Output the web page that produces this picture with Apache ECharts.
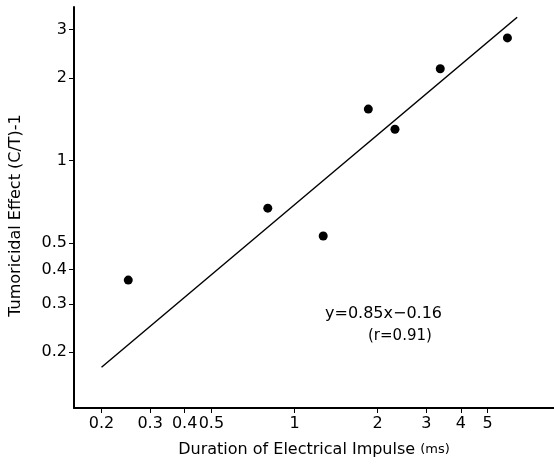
<!DOCTYPE html>
<html><head><meta charset="utf-8">
<script src="https://cdn.jsdelivr.net/npm/echarts@6/dist/echarts.min.js"></script>
<style>html,body{margin:0;padding:0;background:#fff}#c{width:554px;height:465px}</style>
</head><body><div id="c"></div>
<script>
const durationMs = [0.25, 0.80, 1.27, 1.85, 2.31, 3.37, 5.9];
const tumoricidal = [0.366, 0.67, 0.53, 1.54, 1.30, 2.16, 2.80];
// Regression line endpoints as drawn
const fitX = [0.2, 6.4];
const fitY = [0.176, 3.33];
// Tick labels
const xTicks = [0.2, 0.3, 0.4, 0.5, 1, 2, 3, 4, 5];
const yTicks = [0.2, 0.3, 0.4, 0.5, 1, 2, 3];
// Axis ranges
const xRange = [0.159, 8.7];
const yRange = [0.125, 3.63];

const L = Math.log10;
const fmt = v => String(parseFloat(Math.pow(10, v).toPrecision(3)));
const font = 'DejaVu Sans';

const chart = echarts.init(document.getElementById('c'));
chart.setOption({
  animation: false,
  backgroundColor: '#fff',
  grid: {left: 74, right: 0, top: 7, bottom: 57},
  xAxis: {
    type: 'value', min: L(xRange[0]), max: L(xRange[1]),
    splitLine: {show: false},
    axisLine: {onZero: false, lineStyle: {color: '#000', width: 2}},
    axisTick: {customValues: xTicks.map(L), length: 5, lineStyle: {color: '#000', width: 1}},
    axisLabel: {customValues: xTicks.map(L), formatter: fmt, color: '#000', fontFamily: font, fontSize: 16, margin: 8},
    name: 'Duration of Electrical Impulse {s|(ms)}',
    nameLocation: 'middle', nameGap: 34,
    nameTextStyle: {color: '#000', fontFamily: font, fontSize: 16, rich: {s: {fontSize: 13, fontFamily: font, color: '#000'}}}
  },
  yAxis: {
    type: 'value', min: L(yRange[0]), max: L(yRange[1]),
    splitLine: {show: false},
    axisLine: {onZero: false, lineStyle: {color: '#000', width: 2}},
    axisTick: {customValues: yTicks.map(L), length: 5, lineStyle: {color: '#000', width: 1}},
    axisLabel: {customValues: yTicks.map(L), formatter: fmt, color: '#000', fontFamily: font, fontSize: 16, margin: 7},
    name: 'Tumoricidal Effect (C/T)-1',
    nameLocation: 'middle', nameGap: 50, nameRotate: 90,
    nameTextStyle: {color: '#000', fontFamily: font, fontSize: 16, padding: [0, 16, 0, 0]}
  },
  series: [
    {
      type: 'line', data: fitX.map((x, i) => [L(x), L(fitY[i])]),
      showSymbol: false, symbol: 'none',
      lineStyle: {color: '#000', width: 1.5}, z: 2
    },
    {
      type: 'scatter', data: durationMs.map((x, i) => [L(x), L(tumoricidal[i])]),
      symbol: 'circle', symbolSize: 9,
      itemStyle: {color: '#000', opacity: 1}, z: 3
    }
  ],
  graphic: [
    {type: 'text', left: 325, top: 306, style: {text: 'y=0.85x\u22120.16', fill: '#000', font: '16px "DejaVu Sans"'}},
    {type: 'text', left: 368, top: 329, style: {text: '(r=0.91)', fill: '#000', font: '15px "DejaVu Sans"'}}
  ]
});
</script>
</body></html>
